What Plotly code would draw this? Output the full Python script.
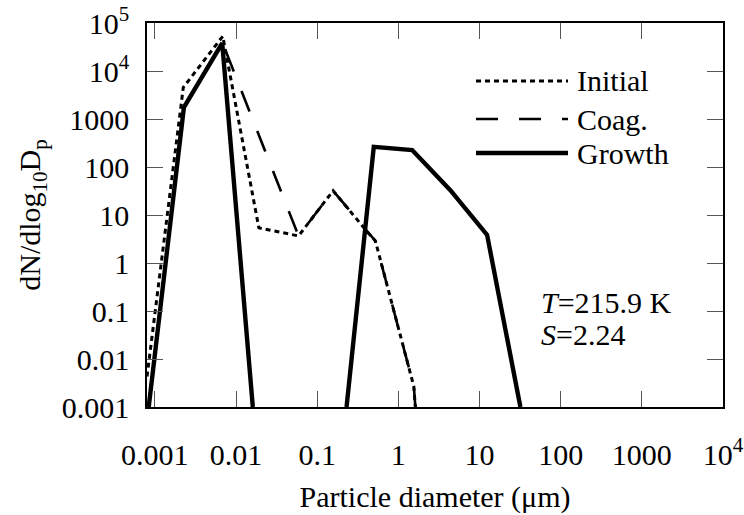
import plotly.graph_objects as go

# ---- data ----
diam_initial = [0.0008, 0.00224, 0.00687, 0.0191, 0.0589, 0.157, 0.431, 0.521, 1.55, 1.62]
dn_initial = [0.0043, 4550, 53000, 5.4, 3.66, 32, 4.13, 2.88, 0.0027, 0.001]

diam_coag = [0.00084, 0.00228, 0.00676, 0.0589, 0.157, 0.431, 0.521, 1.55, 1.62]
dn_coag = [0.001, 1750, 40000, 3.66, 32, 4.13, 2.88, 0.0027, 0.001]

diam_growth = [0.00084, 0.00228, 0.00676, 0.0161, None, 0.23, 0.498, 1.48, 4.37, 12.4, 31.9]
dn_growth = [0.001, 1750, 38000, 0.001, None, 0.001, 264, 226, 33, 3.85, 0.001]

x_tickvals = [0.001, 0.01, 0.1, 1, 10, 100, 1000, 10000]
x_ticktext = ["0.001", "0.01", "0.1", "1", "10", "100", "1000", "10<sup>4</sup>"]
y_tickvals = [0.001, 0.01, 0.1, 1, 10, 100, 1000, 10000, 100000]
y_ticktext = ["0.001", "0.01", "0.1", "1", "10", "100", "1000", "10<sup>4</sup>", "10<sup>5</sup>"]

series_names = ["Initial", "Coag.", "Growth"]
FONT = "Liberation Serif"
FS = 30

W, H = 744, 515
ML, MR, MT, MB = 147, 21, 23, 108
PW, PH = W - ML - MR, H - MT - MB


def px_x(p):
    return (p - ML) / PW


def px_y(p):
    return (H - MB - p) / PH


styles = [
    dict(color="black", width=3, dash="5px,4px"),
    dict(color="black", width=2.6, dash="22px,21px"),
    dict(color="black", width=4.4, dash="solid"),
]

fig = go.Figure()
fig.add_trace(go.Scatter(x=diam_initial, y=dn_initial, mode="lines", name=series_names[0],
                         line=styles[0], showlegend=False))
fig.add_trace(go.Scatter(x=diam_coag, y=dn_coag, mode="lines", name=series_names[1],
                         line=styles[1], showlegend=False))
fig.add_trace(go.Scatter(x=diam_growth, y=dn_growth, mode="lines", name=series_names[2],
                         line=styles[2], showlegend=False, connectgaps=False))

# custom legend (long line samples like the original)
legend_rows = [81, 119, 153]
shapes = []
annotations = []
for name, st, yy in zip(series_names, styles, legend_rows):
    shapes.append(dict(type="line", xref="paper", yref="paper",
                       x0=px_x(476), x1=px_x(568), y0=px_y(yy), y1=px_y(yy),
                       line=st))
    annotations.append(dict(xref="paper", yref="paper", x=px_x(575), y=px_y(yy),
                            text=name, showarrow=False, xanchor="left", yanchor="middle",
                            font=dict(family=FONT, size=FS, color="black")))

annotations.append(dict(xref="paper", yref="paper", x=px_x(539), y=px_y(302),
                        text="<i>T</i>=215.9 K", showarrow=False, xanchor="left", yanchor="middle",
                        font=dict(family=FONT, size=FS, color="black")))
annotations.append(dict(xref="paper", yref="paper", x=px_x(539), y=px_y(334),
                        text="<i>S</i>=2.24", showarrow=False, xanchor="left", yanchor="middle",
                        font=dict(family=FONT, size=FS, color="black")))

axis_common = dict(
    type="log", showgrid=False, zeroline=False,
    ticks="inside", ticklen=16, tickwidth=1, tickcolor="#555555",
    showline=True, linecolor="black", linewidth=1.5, mirror="ticks",
    tickfont=dict(family=FONT, size=FS, color="black"),
)

fig.update_layout(
    width=W, height=H,
    margin=dict(l=ML, r=MR, t=MT, b=MB, autoexpand=False),
    paper_bgcolor="white", plot_bgcolor="white",
    font=dict(family=FONT, size=FS, color="black"),
    xaxis=dict(axis_common, range=[-3.0969, 4], tickvals=x_tickvals, ticktext=x_ticktext,
               ticklabelstandoff=20,
               title=dict(text="Particle diameter (μm)", font=dict(family=FONT, size=FS), standoff=16)),
    yaxis=dict(axis_common, range=[-3, 5], tickvals=y_tickvals, ticktext=y_ticktext,
               ticklabelstandoff=10,
               title=dict(text="dN/dlog<sub>10</sub>D<sub>p</sub>", font=dict(family=FONT, size=FS), standoff=12)),
    shapes=shapes,
    annotations=annotations,
    showlegend=False,
)

fig.write_html("out.html")
